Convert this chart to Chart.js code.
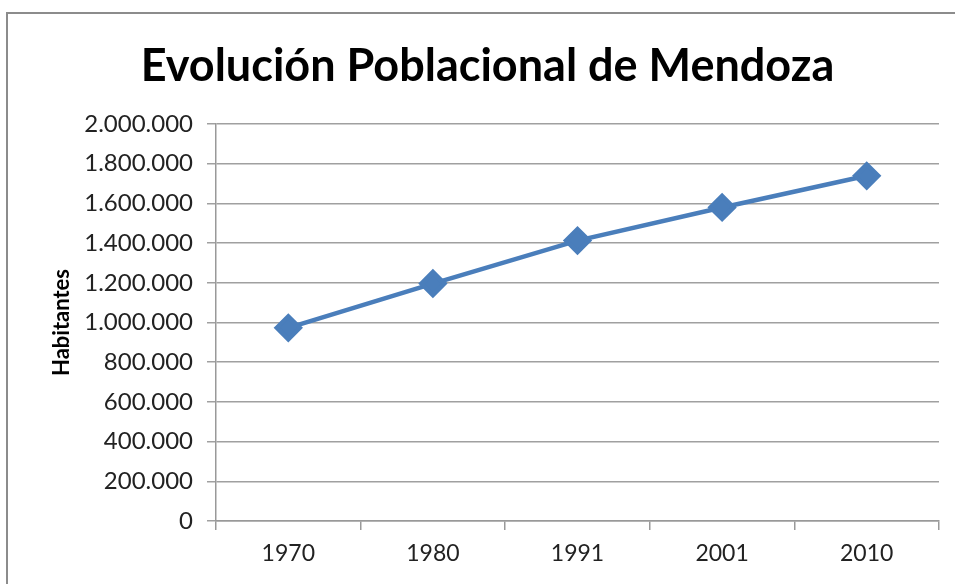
<!DOCTYPE html>
<html>
<head>
<meta charset="utf-8">
<script src="https://cdn.jsdelivr.net/npm/chart.js@4/dist/chart.umd.min.js"></script>
<style>
  html,body{margin:0;padding:0;background:#fff;overflow:hidden;}
  #frame{position:absolute;left:6px;top:12px;width:1100px;height:700px;border:2px solid #8c8c8c;box-sizing:border-box;}
  #wrap{position:absolute;left:0;top:0;width:955px;height:584px;}
</style>
</head>
<body>
<div id="frame"></div>
<div id="wrap"><canvas id="mainChart"></canvas></div>
<script>
// datos del censo
const years = ['1970','1980','1991','2001','2010'];
const habitantes = [973075, 1196228, 1412481, 1579651, 1738929];
const yTicks = [0,200000,400000,600000,800000,1000000,1200000,1400000,1600000,1800000,2000000];

const fmt = v => String(v).replace(/\B(?=(\d{3})+(?!\d))/g, '.');

document.addEventListener('DOMContentLoaded', ()=>{
  const ctx = document.getElementById('mainChart');
  new Chart(ctx,{
    type:'line',
    data:{
      labels:years,
      datasets:[{label:'Habitantes', data:habitantes, borderColor:'#4a7ebb', backgroundColor:'#4a7ebb',
        borderWidth:4.5, pointStyle:'rectRot', pointRadius:11.5, pointHoverRadius:11.5, tension:0, fill:false}]
    },
    options:{
      responsive:true, maintainAspectRatio:false, animation:false,
      layout:{padding:{left:35, right:15, top:0, bottom:0}},
      plugins:{
        legend:{display:false}, tooltip:{enabled:false},
        title:{display:true, text:'Evolución Poblacional de Mendoza', color:'#000',
          font:{family:'Lato', size:45, weight:'bold'}, padding:{top:39, bottom:31}}
      },
      scales:{
        x:{
          offset:true,
          grid:{display:true, drawOnChartArea:false, offset:true, color:'#999', lineWidth:1.5, tickLength:9},
          border:{display:true, color:'#999', width:1.5},
          ticks:{color:'#222', font:{family:'Lato', size:23}, padding:10, maxRotation:0},
          afterFit:s=>{s.height=63;}
        },
        y:{
          min:0, max:2000000,
          afterBuildTicks:s=>{s.ticks=yTicks.map(v=>({value:v}));},
          grid:{color:'#a0a0a0', lineWidth:1.5, tickLength:9},
          border:{display:true, color:'#999', width:1.5},
          ticks:{color:'#222', font:{family:'Lato', size:24}, padding:14, callback:v=>fmt(v)},
          title:{display:true, text:'Habitantes', color:'#000', font:{family:'Lato', size:22, weight:'bold'}, padding:{top:14,bottom:0}},
          afterFit:s=>{s.width=181;}
        }
      }
    }
  });
});
</script>
</body>
</html>
